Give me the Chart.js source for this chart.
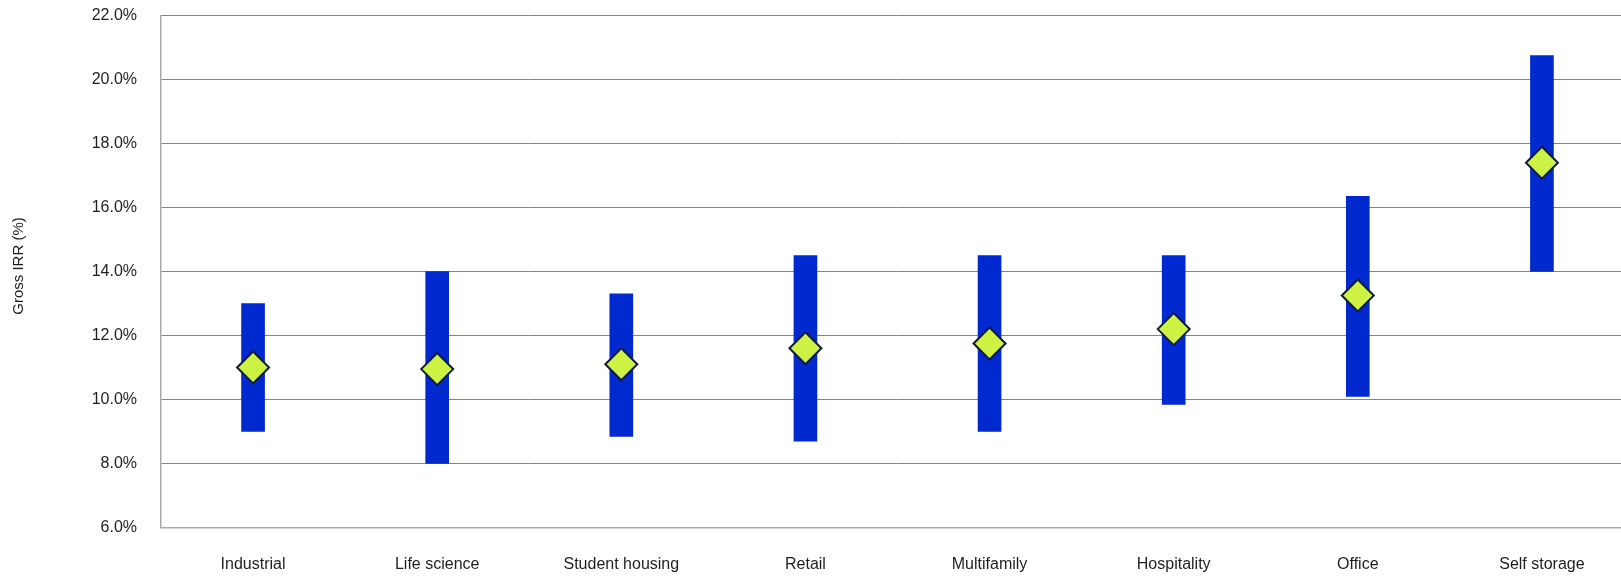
<!DOCTYPE html>
<html>
<head>
<meta charset="utf-8">
<title>Gross IRR by sector</title>
<script src="https://cdn.jsdelivr.net/npm/chart.js@4/dist/chart.umd.min.js"></script>
<style>
  html, body { margin: 0; padding: 0; background: #fff; overflow: hidden; }
  canvas { display: block; }
</style>
</head>
<body>
<canvas id="irrChart" width="1634" height="576"></canvas>
<script>
// sectors and gross IRR range (low / high) with the median marker
const sectors = ["Industrial", "Life science", "Student housing", "Retail", "Multifamily", "Hospitality", "Office", "Self storage"];
const lowIrr = [9.0, 8.0, 8.85, 8.7, 9.0, 9.85, 10.1, 14.0];
const highIrr = [13.0, 14.0, 13.3, 14.5, 14.5, 14.5, 16.35, 20.75];
const medianIrr = [11.0, 10.95, 11.1, 11.6, 11.75, 12.2, 13.25, 17.4];
const yTicks = [6, 8, 10, 12, 14, 16, 18, 20, 22];
const yTitle = "Gross IRR (%)";

const FONT = '"Liberation Sans", Arial, sans-serif';
const TEXT = "#1e1e1e";

// y axis title, drawn by hand to keep it close to the left edge
const axisTitle = {
  id: "axisTitle",
  afterDraw(chart) {
    const ctx = chart.ctx;
    ctx.save();
    ctx.translate(19, 266);
    ctx.rotate(-Math.PI / 2);
    ctx.font = "15px " + FONT;
    ctx.fillStyle = TEXT;
    ctx.textAlign = "center";
    ctx.textBaseline = "middle";
    ctx.fillText(yTitle, 0, 0);
    ctx.restore();
  },
};

const ranges = sectors.map((s, i) => [lowIrr[i], highIrr[i]]);

new Chart(document.getElementById("irrChart"), {
  type: "bar",
  data: {
    labels: sectors,
    datasets: [
      {
        type: "line",
        label: "Median",
        data: medianIrr,
        showLine: false,
        pointStyle: "rectRot",
        pointRadius: 16,
        pointBackgroundColor: "#ccf244",
        pointBorderColor: "#121a3f",
        pointBorderWidth: 2,
        order: 0,
      },
      {
        label: "Range",
        data: ranges,
        backgroundColor: "#0029cf",
        barThickness: 23,
        borderSkipped: false,
        order: 1,
      },
    ],
  },
  options: {
    responsive: false,
    devicePixelRatio: 1,
    animation: false,
    layout: { autoPadding: false, padding: { top: 15.5, right: 0, bottom: 0, left: 0 } },
    plugins: {
      legend: { display: false },
      tooltip: { enabled: false },
    },
    scales: {
      x: {
        grid: { display: false, drawTicks: false },
        border: { color: "#a9a9a9", width: 1.5 },
        ticks: { color: TEXT, font: { family: FONT, size: 16 }, padding: 27, maxRotation: 0 },
        afterFit(scale) {
          scale.height = 48.5;
          scale.paddingLeft = 0;
          scale.paddingRight = 0;
        },
      },
      y: {
        min: 6,
        max: 22,
        afterBuildTicks(scale) { scale.ticks = yTicks.map((v) => ({ value: v })); },
        grid: { color: "#858585", lineWidth: 1, drawTicks: false },
        border: { color: "#a9a9a9", width: 1.5 },
        ticks: {
          color: TEXT,
          font: { family: FONT, size: 16 },
          padding: 24,
          callback: (v) => v.toFixed(1) + "%",
        },
        afterFit(scale) {
          scale.width = 161;
          scale.paddingTop = 0;
          scale.paddingBottom = 0;
        },
      },
    },
  },
  plugins: [axisTitle],
});
</script>
</body>
</html>
